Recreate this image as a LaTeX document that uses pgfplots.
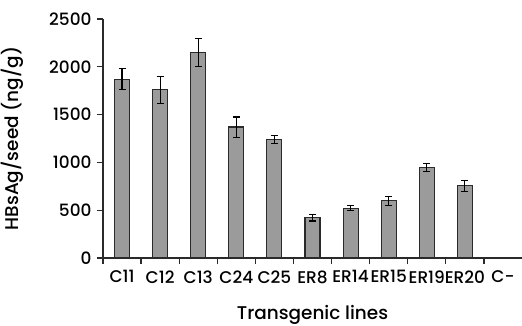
\documentclass[border=0pt]{standalone}
\usepackage{pgfplots}
\pgfplotsset{compat=1.18}
\usepackage{fontspec}
\setmainfont{Poppins}[UprightFont=* Medium]
\definecolor{barfill}{HTML}{9B9B9B}
\definecolor{baredge}{HTML}{2A2A2A}
\begin{document}
\begin{tikzpicture}[x=1bp,y=1bp]
\useasboundingbox (-103,-67) rectangle (419,258);
\begin{axis}[
  at={(0,0)}, anchor=south west,
  scale only axis, width=419bp, height=239bp,
  xmin=-0.5, xmax=10.5, ymin=0, ymax=2500,
  axis lines*=left,
  axis line style={line width=1.2bp, baredge},
  xtick={0,...,10},
  xticklabels={C11,C12,C13,C24,C25,ER8,ER14,ER15,ER19,ER20,C-},
  minor xtick={-0.5,0.5,...,9.5},
  ytick={0,500,...,2500},
  tick align=outside,
  major tick length=6bp,
  minor tick length=6bp,
  x tick style={draw=none},
  minor x tick style={draw=baredge, line width=1.2bp},
  y tick style={draw=baredge, line width=1.2bp},
  /pgf/number format/assume math mode=true,
  /pgf/number format/1000 sep={},
  tick label style={font=\fontsize{17}{20}\selectfont},
  xticklabel style={yshift=-3bp},
  yticklabel style={xshift=-2bp},
  label style={font=\fontsize{18.5}{22}\selectfont},
  xlabel={Transgenic lines},
  ylabel={HBsAg/seed (ng/g)},
  xlabel style={at={(axis description cs:0.5,0)}, anchor=base, yshift=-61bp},
  ylabel style={at={(axis description cs:-0.1814,0.5)}, anchor=south},
  clip=false,
]
\addplot[ybar, bar width=15bp, fill=barfill, draw=baredge, line width=1.1bp,
  error bars/.cd, y dir=both, y explicit,
  error bar style={line width=1.1bp, black},
  error mark options={rotate=90, mark size=3.5bp, line width=1.1bp, black}]
coordinates {
(0,1870) +- (0,110)
(1,1760) +- (0,140)
(2,2150) +- (0,145)
(3,1370) +- (0,105)
(4,1240) +- (0,40)
(5,420) +- (0,33)
(6,520) +- (0,26)
(7,600) +- (0,48)
(8,950) +- (0,43)
(9,755) +- (0,55)
};
\end{axis}
\end{tikzpicture}
\end{document}
